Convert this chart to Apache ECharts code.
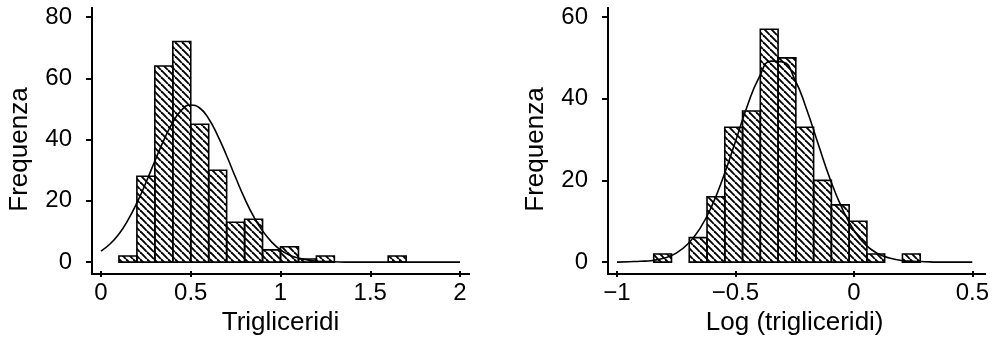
<!DOCTYPE html>
<html>
<head>
<meta charset="utf-8">
<script src="https://cdn.jsdelivr.net/npm/echarts@6/dist/echarts.min.js"></script>
<style>
html, body { margin: 0; background: #fff; }
#chart { width: 992px; height: 341px; }
</style>
</head>
<body>
<div id="chart"></div>
<script>
// pannello sinistro: trigliceridi
var leftEdges = [0, 0.1, 0.2, 0.3, 0.4, 0.5, 0.6, 0.7, 0.8, 0.9, 1.0, 1.1, 1.2, 1.3, 1.4, 1.5, 1.6, 1.7];
var leftCounts = [0, 2, 28, 64, 72, 45, 30, 13, 14, 4, 5, 1, 2, 0, 0, 0, 2];
var leftCurveX = [0, 0.05, 0.1, 0.15, 0.2, 0.25, 0.3, 0.35, 0.4, 0.45, 0.5, 0.55, 0.6, 0.65, 0.7, 0.75, 0.8, 0.85, 0.9, 0.95, 1.0, 1.05, 1.1, 1.15, 1.2, 1.3, 1.4, 1.5, 2.0];
var leftCurveY = [3.6, 5.9, 9.2, 13.7, 19.3, 25.9, 33.0, 39.8, 45.6, 49.7, 51.3, 50.3, 46.8, 41.3, 34.7, 27.6, 20.8, 14.9, 10.2, 6.6, 4.0, 2.3, 1.3, 0.7, 0.3, 0.1, 0, 0, 0];
var leftXTicks = [0, 0.5, 1, 1.5, 2];
var leftYTicks = [0, 20, 40, 60, 80];

// pannello destro: log (trigliceridi)
var rightEdges = [-0.845, -0.77, -0.695, -0.62, -0.545, -0.47, -0.395, -0.32, -0.245, -0.17, -0.095, -0.02, 0.055, 0.13, 0.205, 0.28];
var rightCounts = [2, 0, 6, 16, 33, 37, 57, 50, 33, 20, 14, 10, 2, 0, 2];
var rightCurveX = [-1, -0.95, -0.9, -0.85, -0.8, -0.75, -0.7, -0.65, -0.6, -0.55, -0.5, -0.45, -0.4, -0.35, -0.3, -0.25, -0.2, -0.15, -0.1, -0.05, 0, 0.05, 0.1, 0.15, 0.2, 0.25, 0.3, 0.35, 0.4, 0.5];
var rightCurveY = [0, 0.1, 0.2, 0.4, 1.0, 2.2, 4.5, 8.2, 13.7, 21.0, 29.5, 38.2, 45.2, 49.2, 49.0, 44.8, 37.5, 28.8, 20.3, 13.2, 7.8, 4.2, 2.1, 1.0, 0.4, 0.2, 0.1, 0, 0, 0];
var rightXTicks = [-1, -0.5, 0, 0.5];
var rightYTicks = [0, 20, 40, 60];

var font = 'Liberation Sans, Arial, Helvetica, sans-serif';
var gridL = { left: 101, top: 17, width: 359, height: 248 };
var gridR = { left: 617, top: 17, width: 359, height: 248 };
var axisOff = 9;

// tratteggio delle barre
var hatch = document.createElement('canvas');
hatch.width = 7;
hatch.height = 7;
var ctx = hatch.getContext('2d');
ctx.strokeStyle = '#000';
ctx.lineWidth = 1.9;
[-7, 0, 7].forEach(function (k) {
    ctx.beginPath();
    ctx.moveTo(k, 0);
    ctx.lineTo(k + 7, 7);
    ctx.stroke();
});

function bins(edges, counts) {
    var out = [];
    for (var i = 0; i < counts.length; i++) {
        if (counts[i] > 0) out.push([edges[i], edges[i + 1], counts[i]]);
    }
    return out;
}

function pairs(xs, ys) {
    return xs.map(function (x, i) { return [x, ys[i]]; });
}

function renderBar(params, api) {
    var p0 = api.coord([api.value(0), api.value(2)]);
    var p1 = api.coord([api.value(1), 0]);
    return {
        type: 'rect',
        shape: { x: p0[0], y: p0[1], width: p1[0] - p0[0], height: p1[1] - p0[1] },
        style: { fill: { image: hatch, repeat: 'repeat' }, stroke: '#000', lineWidth: 1.6 }
    };
}

function minus(v) {
    return String(v).replace('-', '\u2212');
}

function xAxisOf(idx, ticks, name) {
    return {
        type: 'value', gridIndex: idx,
        min: ticks[0], max: ticks[ticks.length - 1], interval: ticks[1] - ticks[0],
        offset: axisOff,
        name: name, nameLocation: 'middle', nameGap: 37,
        nameTextStyle: { fontFamily: font, fontSize: 26, color: '#000' },
        axisLine: { show: false, onZero: false },
        axisTick: { show: true, length: 6, lineStyle: { color: '#000', width: 2 } },
        axisLabel: { fontFamily: font, fontSize: 24, color: '#000', margin: 10, formatter: minus },
        splitLine: { show: false }
    };
}

function yAxisOf(idx, ticks) {
    return {
        type: 'value', gridIndex: idx,
        min: ticks[0], max: ticks[ticks.length - 1], interval: ticks[1] - ticks[0],
        offset: axisOff,
        name: 'Frequenza', nameLocation: 'middle', nameGap: 59,
        nameTextStyle: { fontFamily: font, fontSize: 26, color: '#000', padding: [0, 20, 0, 0] },
        axisLine: { show: false, onZero: false },
        axisTick: { show: true, length: 6, lineStyle: { color: '#000', width: 2 } },
        axisLabel: { fontFamily: font, fontSize: 24, color: '#000', margin: 20 },
        splitLine: { show: false }
    };
}

// linee degli assi, staccate dall'area dati come nell'originale
function frame(g) {
    var ax = g.left - axisOff;
    var ay = g.top + g.height + axisOff;
    var st = { stroke: '#000', lineWidth: 2 };
    return [
        { type: 'line', shape: { x1: ax, y1: g.top - 10, x2: ax, y2: ay + 1 }, style: st },
        { type: 'line', shape: { x1: ax - 1, y1: ay, x2: g.left + g.width + 10, y2: ay }, style: st }
    ];
}

var option = {
    backgroundColor: '#fff',
    animation: false,
    grid: [gridL, gridR],
    xAxis: [
        xAxisOf(0, leftXTicks, 'Trigliceridi'),
        xAxisOf(1, rightXTicks, 'Log (trigliceridi)')
    ],
    yAxis: [yAxisOf(0, leftYTicks), yAxisOf(1, rightYTicks)],
    graphic: frame(gridL).concat(frame(gridR)),
    series: [{
        type: 'custom', xAxisIndex: 0, yAxisIndex: 0,
        renderItem: renderBar, encode: { x: [0, 1], y: 2 },
        data: bins(leftEdges, leftCounts)
    }, {
        type: 'line', xAxisIndex: 0, yAxisIndex: 0, z: 3,
        smooth: true, showSymbol: false,
        lineStyle: { color: '#000', width: 1.6 },
        data: pairs(leftCurveX, leftCurveY)
    }, {
        type: 'custom', xAxisIndex: 1, yAxisIndex: 1,
        renderItem: renderBar, encode: { x: [0, 1], y: 2 },
        data: bins(rightEdges, rightCounts)
    }, {
        type: 'line', xAxisIndex: 1, yAxisIndex: 1, z: 3,
        smooth: true, showSymbol: false,
        lineStyle: { color: '#000', width: 1.6 },
        data: pairs(rightCurveX, rightCurveY)
    }]
};

var myChart = echarts.init(document.getElementById('chart'));
myChart.setOption(option);
</script>
</body>
</html>
